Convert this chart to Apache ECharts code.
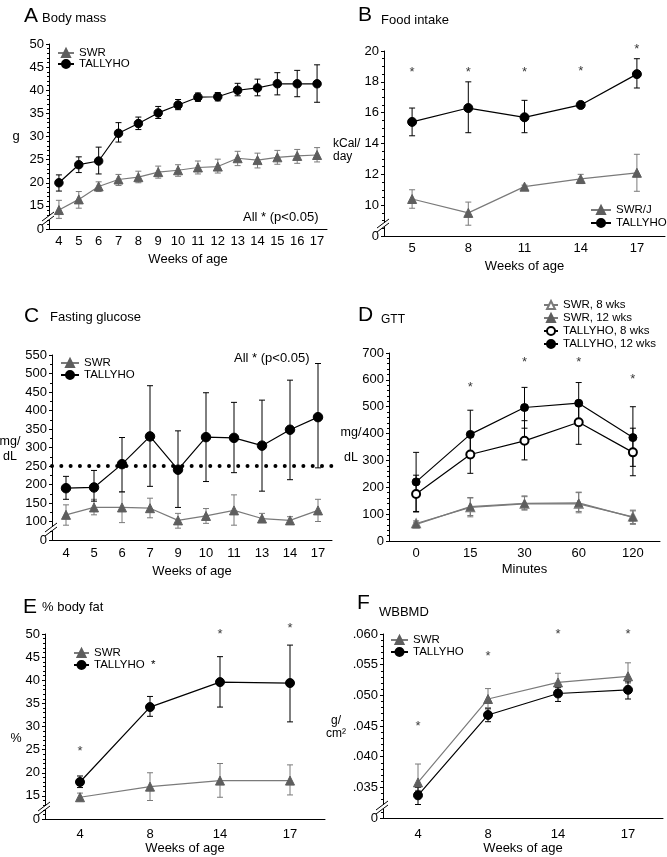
<!DOCTYPE html>
<html>
<head>
<meta charset="utf-8">
<title>TALLYHO vs SWR</title>
<script src="https://cdn.jsdelivr.net/npm/echarts@6/dist/echarts.min.js"></script>
<style>
  html, body { margin: 0; padding: 0; background: #fff; }
  #chart { width: 667px; height: 857px; }
</style>
</head>
<body>
<div id="chart"></div>
<script>
// ---- data ----
// A: body mass (g)
const weeksA = ['4', '5', '6', '7', '8', '9', '10', '11', '12', '13', '14', '15', '16', '17'];
const massTallyho   = [20.0, 23.9, 24.7, 30.7, 32.8, 35.1, 36.8, 38.5, 38.6, 40.0, 40.5, 41.4, 41.4, 41.4];
const massTallyhoLo = [18.2, 22.2, 21.9, 28.8, 31.5, 33.9, 35.8, 37.6, 37.7, 38.8, 38.8, 39.0, 38.6, 37.4];
const massTallyhoHi = [21.7, 25.6, 27.7, 33.0, 34.2, 36.5, 38.0, 39.4, 39.5, 41.5, 42.4, 43.8, 44.3, 45.5];
const massSwr   = [14.1, 16.4, 19.2, 20.7, 21.2, 22.3, 22.7, 23.3, 23.5, 25.3, 24.9, 25.5, 25.8, 26.0];
const massSwrLo = [12.3, 14.5, 18.1, 19.4, 20.0, 21.0, 21.4, 21.9, 22.1, 23.7, 23.2, 24.0, 24.2, 24.5];
const massSwrHi = [16.2, 18.1, 20.2, 21.8, 22.5, 23.6, 23.9, 24.7, 25.1, 26.8, 26.4, 27.0, 27.2, 27.6];

// B: food intake (kCal/day)
const weeksB = ['5', '8', '11', '14', '17'];
const foodTallyho   = [15.4, 16.3, 15.7, 16.5, 18.5];
const foodTallyhoLo = [14.5, 14.7, 14.7, 16.4, 17.6];
const foodTallyhoHi = [16.3, 18.0, 16.8, 16.6, 19.5];
const foodSwr   = [10.4, 9.5, 11.2, 11.7, 12.1];
const foodSwrLo = [9.8, 8.7, 11.1, 11.4, 10.9];
const foodSwrHi = [11.0, 10.2, 11.3, 12.0, 13.3];
const starsB = [18.8, 18.8, 18.8, 18.9, 20.3];

// C: fasting glucose (mg/dL)
const weeksC = ['4', '5', '6', '7', '9', '10', '11', '13', '14', '17'];
const glucTallyho   = [190, 192, 255, 330, 240, 328, 326, 305, 348, 382];
const glucTallyhoLo = [160, 155, 180, 195, 138, 208, 232, 182, 213, 245];
const glucTallyhoHi = [222, 238, 327, 467, 345, 448, 422, 428, 482, 527];
const glucSwr   = [118, 138, 138, 136, 103, 115, 130, 108, 103, 130];
const glucSwrLo = [90, 118, 97, 110, 82, 95, 90, 98, 95, 100];
const glucSwrHi = [145, 160, 180, 163, 122, 135, 172, 122, 113, 160];
const glucoseThreshold = 250;

// D: GTT (mg/dL)
const minutesD = ['0', '15', '30', '60', '120'];
const gttTh12   = [220, 397, 497, 513, 385];
const gttTh12Lo = [108, 310, 420, 435, 278];
const gttTh12Hi = [330, 487, 572, 590, 500];
const gttTh8    = [175, 322, 373, 442, 330];
const gttTh8Lo  = [110, 252, 302, 360, 243];
const gttTh8Hi  = [245, 395, 448, 520, 420];
const gttSwr8    = [65, 125, 138, 138, 90];
const gttSwr8Lo  = [55, 90, 115, 105, 65];
const gttSwr8Hi  = [75, 160, 165, 180, 115];
const gttSwr12   = [62, 128, 140, 142, 88];
const gttSwr12Lo = [55, 95, 118, 110, 62];
const gttSwr12Hi = [70, 162, 168, 182, 112];
const starsD = ['-', 583, 676, 676, 613];

// E: % body fat
const weeksE = ['4', '8', '14', '17'];
const fatTallyho   = [18.0, 34.2, 39.6, 39.4];
const fatTallyhoLo = [16.8, 32.2, 34.2, 31.0];
const fatTallyhoHi = [19.3, 36.5, 45.1, 47.6];
const fatSwr   = [14.7, 17.0, 18.3, 18.3];
const fatSwrLo = [13.9, 14.0, 14.7, 15.2];
const fatSwrHi = [15.6, 20.0, 22.0, 21.7];
const starsE = [25.3, '-', 50.6, 51.8];

// F: WBBMD (g/cm2)
const weeksF = ['4', '8', '14', '17'];
const bmdSwr   = [0.0358, 0.0494, 0.0521, 0.0531];
const bmdSwrLo = [0.0345, 0.0480, 0.0510, 0.0520];
const bmdSwrHi = [0.0388, 0.0511, 0.0536, 0.0553];
const bmdTallyho   = [0.0337, 0.0468, 0.0503, 0.0509];
const bmdTallyhoLo = [0.0322, 0.0457, 0.0490, 0.0494];
const bmdTallyhoHi = [0.0350, 0.0478, 0.0513, 0.0522];
const starsF = [0.0455, 0.0568, 0.0605, 0.0605];

// ---- styling / layout ----
const FONT = "'Liberation Sans', Arial, Helvetica, sans-serif";
const BLACK = '#000';
const GRAY = '#7a7a7a';
const GRAY_MARK = '#5e5e5e';

// plot boxes in px: A B / C D / E F
const boxes = [
  { left: 49,  top: 44,  width: 278, height: 185 },
  { left: 384, top: 51,  width: 281, height: 185 },
  { left: 52,  top: 355, width: 280, height: 185 },
  { left: 389, top: 353, width: 271, height: 188 },
  { left: 45,  top: 634, width: 280, height: 185 },
  { left: 383, top: 634, width: 280, height: 184 }
];

function xAxisOpt(gi, cats, name, margin, gap) {
  return {
    gridIndex: gi, type: 'category', data: cats, boundaryGap: true,
    axisLine: { lineStyle: { color: BLACK, width: 1 } },
    axisTick: { alignWithLabel: true, length: 4, lineStyle: { color: BLACK } },
    axisLabel: { interval: 0, margin: margin, fontFamily: FONT, fontSize: 13, color: BLACK },
    splitLine: { show: false },
    name: name, nameLocation: 'middle', nameGap: gap,
    nameTextStyle: { fontFamily: FONT, fontSize: 13, color: BLACK }
  };
}

function yAxisOpt(gi, min, max, interval, minorSplit, broken, fmt) {
  return {
    gridIndex: gi, type: 'value', min: min, max: max, interval: interval,
    axisLine: { show: true, lineStyle: { color: BLACK, width: 1 } },
    axisTick: { show: true, length: 3, lineStyle: { color: BLACK } },
    minorTick: { show: true, splitNumber: minorSplit, length: 2, lineStyle: { color: BLACK } },
    splitLine: { show: false },
    axisLabel: {
      margin: 5, fontFamily: FONT, fontSize: 13, color: BLACK,
      formatter: function (v) {
        if (broken && Math.abs(v - min) < 1e-9) return '0';
        return fmt ? fmt(v) : String(v);
      }
    }
  };
}

function lineSeries(name, gi, data, sym, size, color, lineColor) {
  return {
    type: 'line', name: name, xAxisIndex: gi, yAxisIndex: gi, data: data,
    symbol: sym, symbolSize: size,
    itemStyle: { color: color, borderColor: color, borderWidth: 1 },
    lineStyle: { color: lineColor, width: 1.2 },
    z: 4, animation: false, silent: true
  };
}

function renderErr(params, api) {
  const i = api.value(0);
  const a = api.coord([i, api.value(1)]);
  const b = api.coord([i, api.value(2)]);
  const s = { stroke: api.visual('color'), lineWidth: 1 };
  return {
    type: 'group',
    children: [
      { type: 'line', shape: { x1: a[0], y1: a[1], x2: b[0], y2: b[1] }, style: s },
      { type: 'line', shape: { x1: a[0] - 3, y1: a[1], x2: a[0] + 3, y2: a[1] }, style: s },
      { type: 'line', shape: { x1: b[0] - 3, y1: b[1], x2: b[0] + 3, y2: b[1] }, style: s }
    ]
  };
}

function errSeries(gi, lo, hi, color) {
  return {
    type: 'custom', xAxisIndex: gi, yAxisIndex: gi,
    data: lo.map((v, i) => [i, v, hi[i]]),
    encode: { x: 0, y: [1, 2] },
    renderItem: renderErr, itemStyle: { color: color },
    z: 3, animation: false, silent: true
  };
}

function starSeries(gi, data) {
  return {
    type: 'scatter', xAxisIndex: gi, yAxisIndex: gi, data: data,
    symbol: 'circle', symbolSize: 1, itemStyle: { color: 'rgba(0,0,0,0)' },
    clip: false, silent: true, animation: false,
    label: { show: true, position: 'inside', formatter: '*', offset: [0, 3],
             fontFamily: FONT, fontSize: 13, color: BLACK }
  };
}

function legendOpt(names, left, top, itemWidth, gap, formatter) {
  const o = {
    data: names, orient: 'vertical', left: left, top: top, padding: 0,
    itemWidth: itemWidth, itemHeight: 10, itemGap: gap, selectedMode: false,
    textStyle: { fontFamily: FONT, fontSize: 11.5, color: BLACK, lineHeight: 12 }
  };
  if (formatter) o.formatter = formatter;
  return o;
}

function txt(text, x, y, size, align, lineHeight) {
  return {
    type: 'text', x: x, y: y, z: 100,
    style: {
      text: text, font: size + 'px ' + FONT, fill: BLACK,
      textAlign: align || 'left', textVerticalAlign: 'middle', verticalAlign: 'middle',
      lineHeight: lineHeight || size
    }
  };
}

// "//" axis break near the foot of the y axis
function breakMark(b) {
  const L = b.left, B = b.top + b.height;
  const s = { stroke: BLACK, lineWidth: 1 };
  return [
    { type: 'rect', z: 100, shape: { x: L - 2, y: B - 13, width: 4, height: 4 }, style: { fill: '#fff' } },
    { type: 'line', z: 101, shape: { x1: L - 7, y1: B - 8, x2: L + 5, y2: B - 17 }, style: s },
    { type: 'line', z: 101, shape: { x1: L - 7, y1: B - 4, x2: L + 5, y2: B - 13 }, style: s }
  ];
}

const bmdFmt = v => (Math.round(v * 1000) / 1000).toFixed(3).replace(/^0/, '');

const option = {
  backgroundColor: '#fff',
  animation: false,
  grid: boxes.map(b => Object.assign({ outerBoundsMode: 'none', containLabel: false }, b)),
  xAxis: [
    xAxisOpt(0, weeksA, 'Weeks of age', 6, 24),
    xAxisOpt(1, weeksB, 'Weeks of age', 6, 24),
    xAxisOpt(2, weeksC, 'Weeks of age', 7, 25),
    xAxisOpt(3, minutesD, 'Minutes', 6, 22),
    xAxisOpt(4, weeksE, 'Weeks of age', 9, 22),
    xAxisOpt(5, weeksF, 'Weeks of age', 10, 23)
  ],
  yAxis: [
    yAxisOpt(0, 10, 50, 5, 5, true),
    yAxisOpt(1, 8, 20, 2, 4, true),
    yAxisOpt(2, 50, 550, 50, 2, true),
    yAxisOpt(3, 0, 700, 100, 5, false),
    yAxisOpt(4, 10, 50, 5, 5, true),
    yAxisOpt(5, 0.030, 0.060, 0.005, 5, true, bmdFmt)
  ],
  legend: [
    legendOpt(['SWR', 'TALLYHO'], 57, 47, 16, -1),
    legendOpt(['SWR/J', 'TALLYHO'], 590, 204, 20, 1),
    legendOpt(['SWR', 'TALLYHO'], 60, 357, 18, 0),
    legendOpt(['SWR, 8 wks', 'SWR, 12 wks', 'TALLYHO, 8 wks', 'TALLYHO, 12 wks'], 543, 299, 14, 1),
    legendOpt(['SWR', 'TALLYHO'], 73, 647, 15, 0, n => n === 'TALLYHO' ? 'TALLYHO  *' : n),
    legendOpt(['SWR', 'TALLYHO'], 390, 634, 17, 0)
  ],
  series: [
    // A
    errSeries(0, massSwrLo, massSwrHi, GRAY),
    errSeries(0, massTallyhoLo, massTallyhoHi, BLACK),
    lineSeries('SWR', 0, massSwr, 'triangle', 9, GRAY_MARK, GRAY),
    lineSeries('TALLYHO', 0, massTallyho, 'circle', 8.5, BLACK, BLACK),
    // B
    errSeries(1, foodSwrLo, foodSwrHi, GRAY),
    errSeries(1, foodTallyhoLo, foodTallyhoHi, BLACK),
    lineSeries('SWR/J', 1, foodSwr, 'triangle', 9, GRAY_MARK, GRAY),
    lineSeries('TALLYHO', 1, foodTallyho, 'circle', 9, BLACK, BLACK),
    starSeries(1, starsB),
    // C
    errSeries(2, glucSwrLo, glucSwrHi, GRAY),
    errSeries(2, glucTallyhoLo, glucTallyhoHi, BLACK),
    lineSeries('SWR', 2, glucSwr, 'triangle', 9, GRAY_MARK, GRAY),
    Object.assign(lineSeries('TALLYHO', 2, glucTallyho, 'circle', 9.5, BLACK, BLACK), {
      markLine: {
        silent: true, symbol: 'none', animation: false,
        label: { show: false },
        lineStyle: { color: BLACK, width: 4, type: [0.01, 9.3], cap: 'round' },
        data: [{ yAxis: glucoseThreshold }]
      }
    }),
    // D
    errSeries(3, gttSwr8Lo, gttSwr8Hi, GRAY),
    errSeries(3, gttSwr12Lo, gttSwr12Hi, GRAY),
    errSeries(3, gttTh8Lo, gttTh8Hi, BLACK),
    errSeries(3, gttTh12Lo, gttTh12Hi, BLACK),
    lineSeries('SWR, 8 wks', 3, gttSwr8, 'emptyTriangle', 7.5, GRAY, GRAY),
    lineSeries('SWR, 12 wks', 3, gttSwr12, 'triangle', 7.5, GRAY_MARK, GRAY),
    lineSeries('TALLYHO, 8 wks', 3, gttTh8, 'emptyCircle', 8, BLACK, BLACK),
    lineSeries('TALLYHO, 12 wks', 3, gttTh12, 'circle', 8, BLACK, BLACK),
    starSeries(3, starsD),
    // E
    errSeries(4, fatSwrLo, fatSwrHi, GRAY),
    errSeries(4, fatTallyhoLo, fatTallyhoHi, BLACK),
    lineSeries('SWR', 4, fatSwr, 'triangle', 9, GRAY_MARK, GRAY),
    lineSeries('TALLYHO', 4, fatTallyho, 'circle', 9, BLACK, BLACK),
    starSeries(4, starsE),
    // F
    errSeries(5, bmdSwrLo, bmdSwrHi, GRAY),
    errSeries(5, bmdTallyhoLo, bmdTallyhoHi, BLACK),
    lineSeries('SWR', 5, bmdSwr, 'triangle', 9, GRAY_MARK, GRAY),
    lineSeries('TALLYHO', 5, bmdTallyho, 'circle', 9, BLACK, BLACK),
    starSeries(5, starsF)
  ],
  graphic: [
    // panel letters and titles
    txt('A', 24, 16, 21), txt('Body mass', 42, 18, 13),
    txt('B', 358, 15, 21), txt('Food intake', 381, 20, 13),
    txt('C', 24, 316, 21), txt('Fasting glucose', 50, 317, 13),
    txt('D', 358, 315, 21), txt('GTT', 381, 320, 12),
    txt('E', 23, 607, 21), txt('% body fat', 42, 607, 13),
    txt('F', 357, 603, 21), txt('WBBMD', 379, 612, 13),
    // y axis units
    txt('g', 16, 136, 13, 'center'),
    txt('kCal/\nday', 333, 150, 12, 'left', 13.5),
    txt('mg/\ndL', 10, 449, 12.5, 'center', 15),
    txt('mg/\ndL', 351, 445, 12.5, 'center', 25),
    txt('%', 16, 739, 12.5, 'center'),
    txt('g/\ncm\u00b2', 336, 727, 12, 'center', 13.5),
    // notes
    txt('All * (p<0.05)', 243, 217, 13),
    txt('All * (p<0.05)', 234, 358, 13)
  ]
    .concat(breakMark(boxes[0]))
    .concat(breakMark(boxes[1]))
    .concat(breakMark(boxes[2]))
    .concat(breakMark(boxes[4]))
    .concat(breakMark(boxes[5]))
};

const chart = echarts.init(document.getElementById('chart'), null, { renderer: 'canvas' });
chart.setOption(option);
</script>
</body>
</html>
